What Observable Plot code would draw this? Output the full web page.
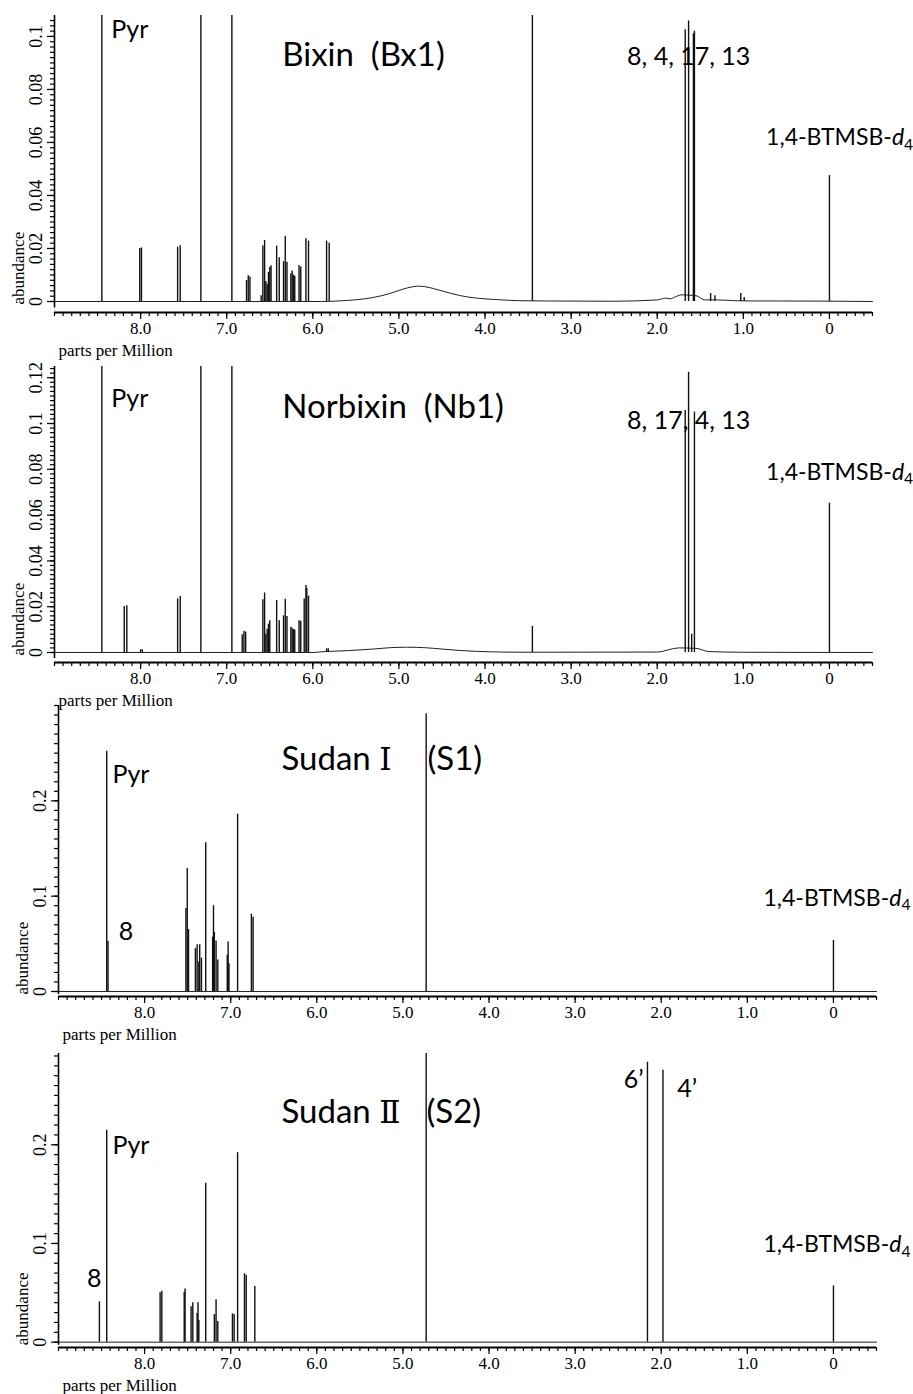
<!DOCTYPE html>
<html><head><meta charset="utf-8">
<script src="https://cdn.jsdelivr.net/npm/d3@7"></script>
<script src="https://cdn.jsdelivr.net/npm/@observablehq/plot@0.6"></script>
<style>
html,body{margin:0;padding:0;background:#fff;overflow:hidden}
#root{position:relative;width:913px;height:1394px}
#root svg{position:absolute;left:0;overflow:visible;max-width:none}
</style>
</head><body><div id="root"></div>
<script>
// ---------- shared axis data ----------
const xDomain = [9.0, -0.5];
const xTickValues = [8, 7, 6, 5, 4, 3, 2, 1, 0];
const xTickLabels = ["8.0", "7.0", "6.0", "5.0", "4.0", "3.0", "2.0", "1.0", "0"];

// ---------- Bixin (Bx1) ----------
const bxYTicks = [0, 0.02, 0.04, 0.06, 0.08, 0.1];
const bxYLabels = ["0", "0.02", "0.04", "0.06", "0.08", "0.1"];
const bixinPpm = [8.45, 8.01, 7.99, 7.57, 7.54, 7.30, 6.94, 6.77, 6.75, 6.73, 6.60, 6.58, 6.56, 6.545, 6.53, 6.515, 6.50, 6.485,
  6.42, 6.39, 6.34, 6.32, 6.30, 6.255, 6.24, 6.225, 6.21, 6.16, 6.14, 6.08, 6.05, 5.84, 5.81, 3.45,
  1.675, 1.636, 1.580, 1.568, 1.38, 1.33, 1.03, 0.99, 0.0];
const bixinHeight = [0.3, 0.0200, 0.0202, 0.0205, 0.0210, 0.3, 0.3, 0.0079, 0.0097, 0.0092, 0.0022, 0.0209, 0.0230, 0.0075, 0.0065, 0.0110, 0.0128, 0.0135,
  0.0209, 0.0165, 0.0150, 0.0245, 0.0148, 0.0105, 0.0115, 0.0100, 0.0095, 0.0136, 0.0130, 0.0237, 0.0228, 0.0228, 0.0220, 0.3,
  0.1025, 0.1058, 0.1010, 0.1020, 0.0030, 0.0022, 0.0030, 0.0015, 0.0475];
const bixinBasePpm = [9.0, 5.9, 5.6, 5.4, 5.2, 5.05, 4.95, 4.85, 4.78, 4.7, 4.6, 4.5, 4.4, 4.3, 4.2, 4.0, 3.8, 3.6, 3.3, 2.5, 2.0, 1.9, 1.85, 1.8, 1.72, 1.55, 1.45, 1.3, 1.1, 0.9, 0.6, -0.5];
const bixinBaseValue = [0, 0, 0.0004, 0.0010, 0.0022, 0.0036, 0.0047, 0.0055, 0.0058, 0.0056, 0.0049, 0.0040, 0.0031, 0.0023, 0.0017, 0.0010, 0.0006, 0.0003, 0.0002, 0.0001, 0.0006, 0.0013, 0.0010, 0.0016, 0.0025, 0.0022, 0.0006, 0.0006, 0.0003, 0.0002, 0.0002, 0];
const bixinTitle = "Bixin\u00a0\u00a0(Bx1)";
const bixinTitleAt = [6.355, 0.0887];
const bixinLabels = ["Pyr", "8, 4, 17, 13", "1,4-BTMSB-d4"];
const bixinLabelPpm = [8.34, 2.35, 0.736];
const bixinLabelY = [0.0995, 0.0891, 0.0591];

// ---------- Norbixin (Nb1) ----------
const nbYTicks = [0, 0.02, 0.04, 0.06, 0.08, 0.1, 0.12];
const nbYLabels = ["0", "0.02", "0.04", "0.06", "0.08", "0.1", "0.12"];
const norbixinPpm = [8.45, 8.19, 8.16, 8.00, 7.98, 7.57, 7.54, 7.30, 6.94, 6.82, 6.80, 6.78, 6.58, 6.56, 6.545, 6.53, 6.515, 6.50,
  6.42, 6.39, 6.34, 6.32, 6.30, 6.255, 6.24, 6.225, 6.21, 6.16, 6.14, 6.10, 6.08, 6.07, 6.05, 5.84, 5.82, 3.45,
  1.675, 1.636, 1.60, 1.568, 0.0];
const norbixinHeight = [0.3, 0.0201, 0.0204, 0.0012, 0.0012, 0.0234, 0.0245, 0.3, 0.3, 0.0077, 0.0093, 0.0089, 0.0230, 0.0260, 0.0080, 0.0102, 0.0124, 0.0139,
  0.0227, 0.0139, 0.0160, 0.0233, 0.0157, 0.0110, 0.0105, 0.0100, 0.0098, 0.0139, 0.0136, 0.0234, 0.0293, 0.0280, 0.0246, 0.0016, 0.0016, 0.0114,
  0.1057, 0.1224, 0.0080, 0.1050, 0.0652];
const norbixinBasePpm = [9.0, 6.0, 5.9, 5.6, 5.3, 5.1, 4.9, 4.7, 4.5, 4.3, 4.1, 3.8, 3.5, 2.0, 1.75, 1.55, 1.4, 1.0, -0.5];
const norbixinBaseValue = [0, 0, 0.0003, 0.0008, 0.0015, 0.0021, 0.0023, 0.0021, 0.0015, 0.0009, 0.0005, 0.0002, 0.0001, 0.0002, 0.0020, 0.0018, 0.0004, 0.0001, 0];
const norbixinTitle = "Norbixin\u00a0\u00a0(Nb1)";
const norbixinTitleAt = [6.355, 0.1025];
const norbixinLabels = ["Pyr", "8, 17, 4, 13", "1,4-BTMSB-d4"];
const norbixinLabelPpm = [8.34, 2.35, 0.736];
const norbixinLabelY = [0.1074, 0.0977, 0.0755];

// ---------- Sudan I (S1) ----------
const sdYTicks = [0, 0.1, 0.2];
const sdYLabels = ["0", "0.1", "0.2"];
const sudan1Ppm = [8.44, 8.425, 7.52, 7.505, 7.49, 7.41, 7.39, 7.37, 7.36, 7.34, 7.29, 7.21, 7.20, 7.19, 7.17, 7.15, 7.04, 7.03, 7.02, 6.92, 6.76, 6.74, 4.73, 0.0];
const sudan1Height = [0.252, 0.0528, 0.087, 0.129, 0.065, 0.045, 0.049, 0.031, 0.049, 0.035, 0.156, 0.057, 0.090, 0.062, 0.053, 0.033, 0.038, 0.052, 0.029, 0.186, 0.081, 0.078, 0.2914, 0.0535];
const sudan1BasePpm = [9.0, -0.5];
const sudan1BaseValue = [0, 0];
const sudan1Title = "Sudan \u2160\u00a0\u00a0(S1)";
const sudan1TitleAt = [6.41, 0.232];
const sudan1Labels = ["Pyr", "8", "1,4-BTMSB-d4"];
const sudan1LabelPpm = [8.374, 8.30, 0.813];
const sudan1LabelY = [0.219, 0.0535, 0.090];

// ---------- Sudan II (S2) ----------
const sudan2Ppm = [8.525, 8.44, 7.82, 7.80, 7.54, 7.53, 7.46, 7.44, 7.39, 7.38, 7.37, 7.29, 7.19, 7.17, 7.15, 6.98, 6.96, 6.92, 6.84, 6.82, 6.72, 4.73, 2.16, 1.98, 0.0];
const sudan2Height = [0.0408, 0.2147, 0.050, 0.0517, 0.0507, 0.054, 0.036, 0.040, 0.029, 0.040, 0.022, 0.161, 0.028, 0.043, 0.021, 0.0287, 0.028, 0.192, 0.0694, 0.0677, 0.0565, 0.4, 0.2837, 0.2755, 0.057];
const sudan2BasePpm = [9.0, -0.5];
const sudan2BaseValue = [0, 0];
const sudan2Title = "Sudan \u2161\u00a0\u00a0(S2)";
const sudan2TitleAt = [6.41, 0.222];
const sudan2Labels = ["8", "Pyr", "6\u2019", "4\u2019", "1,4-BTMSB-d4"];
const sudan2LabelPpm = [8.668, 8.374, 2.435, 1.815, 0.813];
const sudan2LabelY = [0.0564, 0.191, 0.2578, 0.248, 0.0912];

// ---------- layout (not data) ----------
const SERIF = "'Liberation Serif', 'Times New Roman', serif";
const SANS = "Lato, 'Noto Sans CJK JP', 'Noto Sans', sans-serif";
const numeralGap = {"\u2160": 19, "\u2161": 9};
const panels = [
  {top: 0, h: 360, ml: 54, mr: 41, yDomain: [-0.00415, 0.1079], minorStep: 0.002, yTicks: bxYTicks, yLabels: bxYLabels,
   ppm: bixinPpm, height: bixinHeight, basePpm: bixinBasePpm, baseValue: bixinBaseValue,
   title: bixinTitle, titleAt: bixinTitleAt, labels: bixinLabels, labelPpm: bixinLabelPpm, labelY: bixinLabelY},
  {top: 351, h: 359, ml: 54, mr: 41, yDomain: [-0.00437, 0.1249], minorStep: 0.002, yTicks: nbYTicks, yLabels: nbYLabels,
   ppm: norbixinPpm, height: norbixinHeight, basePpm: norbixinBasePpm, baseValue: norbixinBaseValue,
   title: norbixinTitle, titleAt: norbixinTitleAt, labels: norbixinLabels, labelPpm: norbixinLabelPpm, labelY: norbixinLabelY},
  {top: 690, h: 354, ml: 58, mr: 37, yDomain: [-0.00525, 0.3], minorStep: 0.01, yTicks: sdYTicks, yLabels: sdYLabels,
   ppm: sudan1Ppm, height: sudan1Height, basePpm: sudan1BasePpm, baseValue: sudan1BaseValue,
   title: sudan1Title, titleAt: sudan1TitleAt, labels: sudan1Labels, labelPpm: sudan1LabelPpm, labelY: sudan1LabelY},
  {top: 1038, h: 357, ml: 58, mr: 37, yDomain: [-0.0054, 0.2925], minorStep: 0.01, yTicks: sdYTicks, yLabels: sdYLabels,
   ppm: sudan2Ppm, height: sudan2Height, basePpm: sudan2BasePpm, baseValue: sudan2BaseValue,
   title: sudan2Title, titleAt: sudan2TitleAt, labels: sudan2Labels, labelPpm: sudan2LabelPpm, labelY: sudan2LabelY}
];

const xMinor = d3.range(-5, 91).map(i => i / 10);

function makePanel(p) {
  const peaks = p.ppm.map((x, i) => ({x, h: p.height[i]}));
  const base = p.basePpm.map((x, i) => ({x, y: p.baseValue[i]}));
  const labels = p.labels.map((t, i) => ({t, x: p.labelPpm[i], y: p.labelY[i]}));
  const [y0, y1] = p.yDomain;
  const n = Math.floor(y1 / p.minorStep + 1e-6);
  const yMinor = d3.range(0, n + 1).map(i => +(i * p.minorStep).toFixed(4));
  const svg = Plot.plot({
    width: 913, height: p.h,
    marginTop: 15, marginBottom: 48, marginLeft: p.ml, marginRight: p.mr,
    style: {background: "none", fontFamily: SERIF, color: "#000", overflow: "visible"},
    x: {domain: xDomain},
    y: {domain: p.yDomain},
    marks: [
      Plot.line(base, {x: "x", y: "y", stroke: "#222", strokeWidth: 1, curve: "monotone-x"}),
      Plot.ruleX(peaks, {x: "x", y1: 0, y2: "h", stroke: "#111", strokeWidth: 1.4, clip: true}),
      Plot.ruleY([y0], {stroke: "#000", strokeWidth: 2}),
      Plot.ruleX([xDomain[0]], {y1: y0 * 0.6, y2: y1, stroke: "#000", strokeWidth: 1.6}),
      Plot.axisX({ticks: xMinor, tickSize: 4, tickFormat: () => "", label: null, strokeWidth: 1.2}),
      Plot.axisX({ticks: xTickValues, tickSize: 7, tickPadding: 2, label: null, strokeWidth: 1.2,
        tickFormat: d => xTickLabels[xTickValues.indexOf(d)], fontSize: 17, fontFamily: SERIF}),
      Plot.axisY({ticks: yMinor, tickSize: 4, tickFormat: () => "", label: null, strokeWidth: 1.2}),
      Plot.axisY({ticks: p.yTicks, tickSize: 7, tickFormat: () => "", label: null, strokeWidth: 1.2}),
      Plot.text(p.yTicks, {y: d => d, text: (d, i) => p.yLabels[i], frameAnchor: "left", dx: -18,
        rotate: -90, textAnchor: "middle", lineAnchor: "middle", fontSize: 18, fontFamily: SERIF}),
      Plot.text(["abundance"], {y: [0], text: d => d, frameAnchor: "left", dx: -36, dy: 3,
        rotate: -90, textAnchor: "start", lineAnchor: "middle", fontSize: 17, fontFamily: SERIF}),
      Plot.text(["parts per Million"], {text: d => d, frameAnchor: "bottom-left", dx: 4, dy: 38,
        textAnchor: "start", lineAnchor: "middle", fontSize: 17, fontFamily: SERIF}),
      Plot.text(labels, {x: "x", y: "y", text: "t", textAnchor: "start", lineAnchor: "bottom",
        fontSize: d => d.t.startsWith("1,4") ? 23 : 25, fontFamily: SANS, fill: "#000"}),
      Plot.text([p.title], {x: [p.titleAt[0]], y: [p.titleAt[1]], text: d => d, textAnchor: "start", lineAnchor: "bottom",
        fontSize: 33, fontFamily: SANS, fill: "#000"})
    ]
  });
  svg.style.top = p.top + "px";
  const ns = "http://www.w3.org/2000/svg";
  const span = (txt, attrs) => {
    const s = document.createElementNS(ns, "tspan");
    for (const k in attrs) s.setAttribute(k, attrs[k]);
    s.textContent = txt;
    return s;
  };
  svg.querySelectorAll("text").forEach(t => {
    const c = t.textContent;
    if (c === "1,4-BTMSB-d4") {
      t.textContent = "1,4-BTMSB-";
      t.appendChild(span("d", {"font-style": "italic"}));
      t.appendChild(span("4", {"font-size": "0.68em", "dy": "0.3em"}));
    } else if (/[\u2160\u2161]/.test(c)) {
      const m = c.match(/^(.*?)([\u2160\u2161])(.*)$/);
      t.textContent = m[1];
      t.appendChild(span(m[2], {"font-family": "'DejaVu Serif', serif", "font-size": "0.95em"}));
      t.appendChild(span(m[3], {"dx": numeralGap[m[2]]}));
    }
  });
  return svg;
}

const root = document.getElementById("root");
panels.forEach(p => root.appendChild(makePanel(p)));
</script>
</body></html>
